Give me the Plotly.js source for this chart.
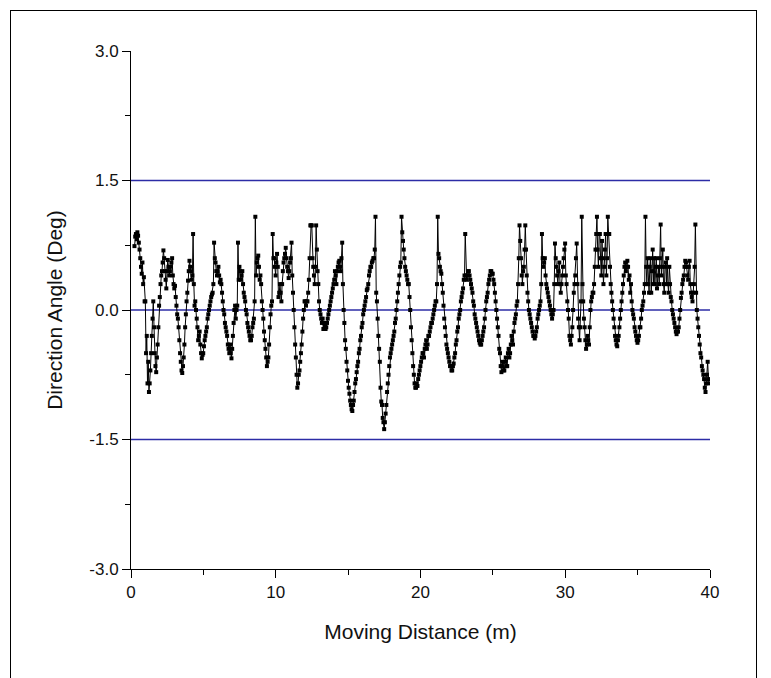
<!DOCTYPE html>
<html>
<head>
<meta charset="utf-8">
<script src="https://cdn.plot.ly/plotly-3.0.1.min.js"></script>
<style>
  html, body { margin: 0; padding: 0; background: #ffffff; }
  #wrap { position: relative; width: 771px; height: 678px; overflow: hidden; }
  #frame { position: absolute; left: 10px; top: 10px; width: 747px; height: 700px; border: 1px solid #000; box-sizing: border-box; }
  #chart { position: absolute; left: 0; top: 0; width: 771px; height: 678px; }
</style>
</head>
<body>
<div id="wrap">
  <div id="frame"></div>
  <div id="chart"></div>
</div>
<script>
// Sampling of the distance axis (m)
const X_START = 0.24;
const X_STEP = 0.05;

// Direction angle (deg), one value per 0.05 m
const angles = [
  0.74, 0.85, 0.88, 0.82, 0.9, 0.86, 0.78, 0.7, 0.6, 0.5, 0.42, 0.55, 0.3, 0.38, 0.1, 0.1, -0.5, -0.3, -0.85,
  -0.6, -0.95, -0.85, -0.7, -0.5, -0.3, -0.1, 0.1, -0.2, -0.5, -0.65, -0.72, -0.55, -0.4, -0.2, 0.05, 0.15, 0.3, 0.4, 0.45,
  0.55, 0.69, 0.6, 0.45, 0.35, 0.25, 0.45, 0.58, 0.5, 0.4, 0.45, 0.5, 0.55, 0.6, 0.4, 0.3, 0.25, 0.28, 0.15, 0.05,
  -0.05, -0.1, -0.2, -0.35, -0.5, -0.6, -0.7, -0.73, -0.65, -0.55, -0.4, -0.2, -0.05, 0.1, 0.2, 0.34, 0.45, 0.57, 0.5, 0.45,
  0.35, 0.4, 0.88, 0.3, 0.05, 0.1, 0.0, -0.1, -0.2, -0.35, -0.3, -0.25, -0.4, -0.5, -0.56, -0.52, -0.5, -0.42, -0.35, -0.3,
  -0.25, -0.2, -0.1, -0.05, 0.0, 0.05, 0.1, 0.15, 0.18, 0.2, 0.3, 0.78, 0.6, 0.55, 0.45, 0.4, 0.45, 0.5, 0.4, 0.32,
  0.35, 0.3, 0.2, 0.1, 0.0, -0.05, -0.15, -0.2, -0.25, -0.3, -0.4, -0.45, -0.5, -0.4, -0.5, -0.56, -0.45, -0.3, -0.15, 0.0,
  0.05, -0.1, 0.0, 0.05, 0.78, 0.35, 0.5, 0.45, 0.35, 0.4, 0.45, 0.3, 0.2, 0.15, 0.1, 0.0, -0.05, -0.15, -0.2, -0.25,
  -0.3, -0.35, -0.35, -0.3, -0.2, -0.15, -0.1, 0.1, 1.08, 0.4, 0.55, 0.6, 0.63, 0.5, 0.35, 0.4, 0.3, 0.1, 0.0, -0.1,
  -0.25, -0.35, -0.45, -0.55, -0.65, -0.6, -0.55, -0.4, -0.2, -0.05, 0.05, 0.1, 0.88, 0.6, 0.6, 0.5, 0.4, 0.55, 0.65, 0.5,
  0.15, 0.2, 0.3, 0.2, 0.1, 0.3, 0.45, 0.55, 0.6, 0.65, 0.72, 0.6, 0.5, 0.45, 0.37, 0.45, 0.55, 0.6, 0.78, 0.4,
  0.2, 0.0, -0.2, -0.4, -0.55, -0.75, -0.9, -0.85, -0.75, -0.7, -0.6, -0.5, -0.4, -0.25, -0.1, 0.0, 0.1, 0.1, 0.05, 0.1,
  0.1, 0.2, 0.35, 0.6, 0.98, 0.98, 0.98, 0.6, 0.5, 0.4, 0.3, 0.5, 0.98, 0.7, 0.45, 0.3, 0.1, 0.0, -0.05, -0.1,
  -0.15, -0.1, -0.22, -0.15, -0.18, -0.22, -0.2, -0.15, -0.1, -0.05, 0.0, 0.05, 0.1, 0.15, 0.2, 0.25, 0.3, 0.35, 0.45, 0.4,
  0.3, 0.45, 0.5, 0.55, 0.57, 0.5, 0.45, 0.6, 0.78, 0.3, 0.0, -0.15, -0.35, -0.45, -0.6, -0.7, -0.82, -0.9, -0.97, -1.05,
  -1.1, -1.15, -1.17, -1.1, -1.05, -0.95, -0.85, -0.8, -0.72, -0.65, -0.6, -0.5, -0.45, -0.35, -0.3, -0.2, -0.15, -0.05, 0.0, 0.05,
  0.1, 0.15, 0.23, 0.25, 0.3, 0.4, 0.45, 0.5, 0.5, 0.55, 0.57, 0.6, 0.6, 0.7, 1.08, 0.2, 0.1, -0.1, -0.3, -0.45,
  -0.6, -0.9, -1.06, -1.1, -1.25, -1.3, -1.38, -1.3, -1.2, -1.1, -0.95, -0.85, -0.75, -0.65, -0.55, -0.5, -0.45, -0.4, -0.35, -0.3,
  -0.25, -0.15, -0.1, 0.0, 0.1, 0.2, 0.3, 0.4, 0.5, 0.55, 1.08, 0.9, 0.8, 0.7, 0.6, 0.5, 0.45, 0.4, 0.35, 0.3,
  0.3, 0.15, 0.0, -0.2, -0.35, -0.5, -0.65, -0.75, -0.85, -0.9, -0.9, -0.85, -0.88, -0.8, -0.75, -0.7, -0.65, -0.6, -0.55, -0.5,
  -0.5, -0.55, -0.45, -0.4, -0.35, -0.45, -0.4, -0.3, -0.3, -0.25, -0.2, -0.15, -0.15, -0.1, -0.05, 0.0, 0.05, 0.1, 0.1, 0.3,
  1.08, 0.65, 0.6, 0.5, 0.45, 0.42, 0.3, 0.2, 0.05, -0.1, -0.2, -0.3, -0.4, -0.45, -0.5, -0.55, -0.6, -0.65, -0.65, -0.7,
  -0.7, -0.65, -0.62, -0.55, -0.5, -0.4, -0.35, -0.25, -0.2, -0.1, -0.05, 0.0, 0.1, 0.15, 0.2, 0.25, 0.35, 0.4, 0.88, 0.4,
  0.35, 0.4, 0.45, 0.45, 0.4, 0.35, 0.3, 0.25, 0.2, 0.1, 0.05, -0.05, -0.1, -0.15, -0.2, -0.25, -0.3, -0.35, -0.38, -0.4,
  -0.4, -0.35, -0.3, -0.25, -0.2, -0.1, 0.0, 0.1, 0.15, 0.2, 0.3, 0.35, 0.4, 0.45, 0.45, 0.42, 0.42, 0.35, 0.3, 0.2,
  0.1, 0.0, -0.1, -0.2, -0.3, -0.45, -0.5, -0.65, -0.72, -0.65, -0.6, -0.7, -0.7, -0.6, -0.55, -0.65, -0.65, -0.5, -0.45, -0.55,
  -0.5, -0.4, -0.3, -0.35, -0.4, -0.25, -0.15, -0.1, -0.05, 0.05, 0.1, 0.3, 0.6, 0.98, 0.8, 0.6, 0.4, 0.3, 0.45, 0.5,
  0.7, 0.98, 0.7, 0.4, 0.2, 0.1, 0.0, -0.05, -0.1, -0.15, -0.2, -0.25, -0.3, -0.3, -0.33, -0.3, -0.25, -0.2, -0.1, -0.05,
  0.0, 0.05, 0.1, 0.3, 0.88, 0.6, 0.5, 0.55, 0.6, 0.4, 0.3, 0.25, 0.2, 0.15, 0.1, 0.05, 0.0, -0.05, -0.1, -0.05,
  0.0, 0.3, 0.77, 0.6, 0.5, 0.4, 0.3, 0.45, 0.55, 0.3, 0.2, 0.3, 0.4, 0.5, 0.6, 0.7, 0.77, 0.4, 0.3, 0.1,
  0.0, -0.1, -0.3, -0.35, -0.4, -0.3, -0.2, 0.0, 0.2, 0.3, 0.4, 0.6, 0.77, 0.3, -0.1, -0.2, -0.35, -0.2, 0.1, 1.08,
  0.3, 0.1, -0.1, -0.2, -0.35, -0.45, -0.4, -0.3, -0.35, -0.4, -0.2, 0.0, 0.1, 0.15, 0.2, 0.2, 0.3, 0.5, 0.7, 0.88,
  1.08, 0.7, 0.5, 0.88, 0.88, 0.6, 0.4, 0.8, 0.6, 0.3, 0.5, 0.7, 0.88, 0.4, 0.6, 1.08, 0.88, 0.88, 0.5, 0.3,
  0.2, 0.1, 0.0, -0.1, -0.2, -0.3, -0.35, -0.4, -0.42, -0.35, -0.3, -0.2, -0.1, 0.0, 0.1, 0.2, 0.3, 0.4, 0.5, 0.55,
  0.45, 0.5, 0.57, 0.5, 0.35, 0.4, 0.2, 0.3, 0.1, 0.0, -0.05, -0.1, -0.2, -0.25, -0.3, -0.35, -0.38, -0.35, -0.3, -0.2,
  -0.2, -0.1, 0.0, 0.05, 0.1, 0.2, 0.3, 1.08, 0.5, 0.3, 0.6, 0.3, 0.2, 0.5, 0.6, 0.2, 0.45, 0.7, 0.3, 0.6,
  0.3, 0.5, 0.6, 0.25, 0.4, 0.5, 0.3, 0.6, 0.99, 0.4, 0.5, 0.7, 0.3, 0.2, 0.5, 0.55, 0.3, 0.6, 0.3, 0.2,
  0.5, 0.3, 0.15, 0.1, 0.0, -0.05, -0.1, -0.15, -0.2, -0.25, -0.28, -0.25, -0.25, -0.2, -0.1, 0.0, 0.14, 0.2, 0.3, 0.35,
  0.4, 0.5, 0.57, 0.55, 0.5, 0.4, 0.35, 0.5, 0.57, 0.3, 0.2, 0.15, 0.1, 0.2, 0.3, 0.5, 0.99, 0.2, 0.0, -0.1,
  -0.2, -0.3, -0.4, -0.5, -0.55, -0.65, -0.7, -0.75, -0.8, -0.9, -0.95, -0.85, -0.75, -0.6, -0.8, -0.85
];
const distance = angles.map((_, i) => +(X_START + i * X_STEP).toFixed(3));

// Reference levels (deg)
const refLevels = [1.5, 0.0, -1.5];

// Axis ticks
const xTicks = [0, 10, 20, 30, 40];
const xTickText = ["0", "10", "20", "30", "40"];
const yTicks = [-3.0, -1.5, 0.0, 1.5, 3.0];
const yTickText = ["-3.0", "-1.5", "0.0", "1.5", "3.0"];
const xRange = [0, 40];
const yRange = [-3, 3];

const traces = [];
refLevels.forEach(v => {
  traces.push({
    x: xRange, y: [v, v], mode: 'lines', type: 'scatter',
    line: { color: '#2c2ca6', width: 1.5 }, hoverinfo: 'skip', showlegend: false
  });
});
traces.push({
  x: distance, y: angles, type: 'scatter', mode: 'lines+markers',
  line: { color: '#000000', width: 1 },
  marker: { symbol: 'square', size: 4, color: '#000000' },
  showlegend: false
});

const axisFont = { family: 'Liberation Sans, Arial, sans-serif', size: 17, color: '#111' };
const titleFont = { family: 'Liberation Sans, Arial, sans-serif', size: 21, color: '#111' };
const layout = {
  width: 771, height: 678,
  margin: { l: 131, r: 61, t: 51, b: 109 },
  paper_bgcolor: 'rgba(0,0,0,0)',
  plot_bgcolor: 'rgba(0,0,0,0)',
  showlegend: false,
  xaxis: {
    range: xRange, tickvals: xTicks, ticktext: xTickText,
    showgrid: false, zeroline: false, showline: true, linecolor: '#000', linewidth: 1,
    ticks: 'outside', ticklen: 8, tickwidth: 1, tickcolor: '#000',
    minor: { dtick: 5, ticks: 'outside', ticklen: 5, tickwidth: 1, tickcolor: '#000', showgrid: false },
    tickfont: axisFont,
    title: { text: 'Moving Distance (m)', font: titleFont, standoff: 22 }
  },
  yaxis: {
    range: yRange, tickvals: yTicks, ticktext: yTickText,
    showgrid: false, zeroline: false, showline: true, linecolor: '#000', linewidth: 1,
    ticks: 'outside', ticklen: 8, tickwidth: 1, tickcolor: '#000',
    minor: { dtick: 0.75, ticks: 'outside', ticklen: 5, tickwidth: 1, tickcolor: '#000', showgrid: false },
    tickfont: axisFont,
    title: { text: 'Direction Angle (Deg)', font: titleFont, standoff: 20 }
  }
};

Plotly.newPlot('chart', traces, layout, { staticPlot: true, displayModeBar: false });
</script>
</body>
</html>
